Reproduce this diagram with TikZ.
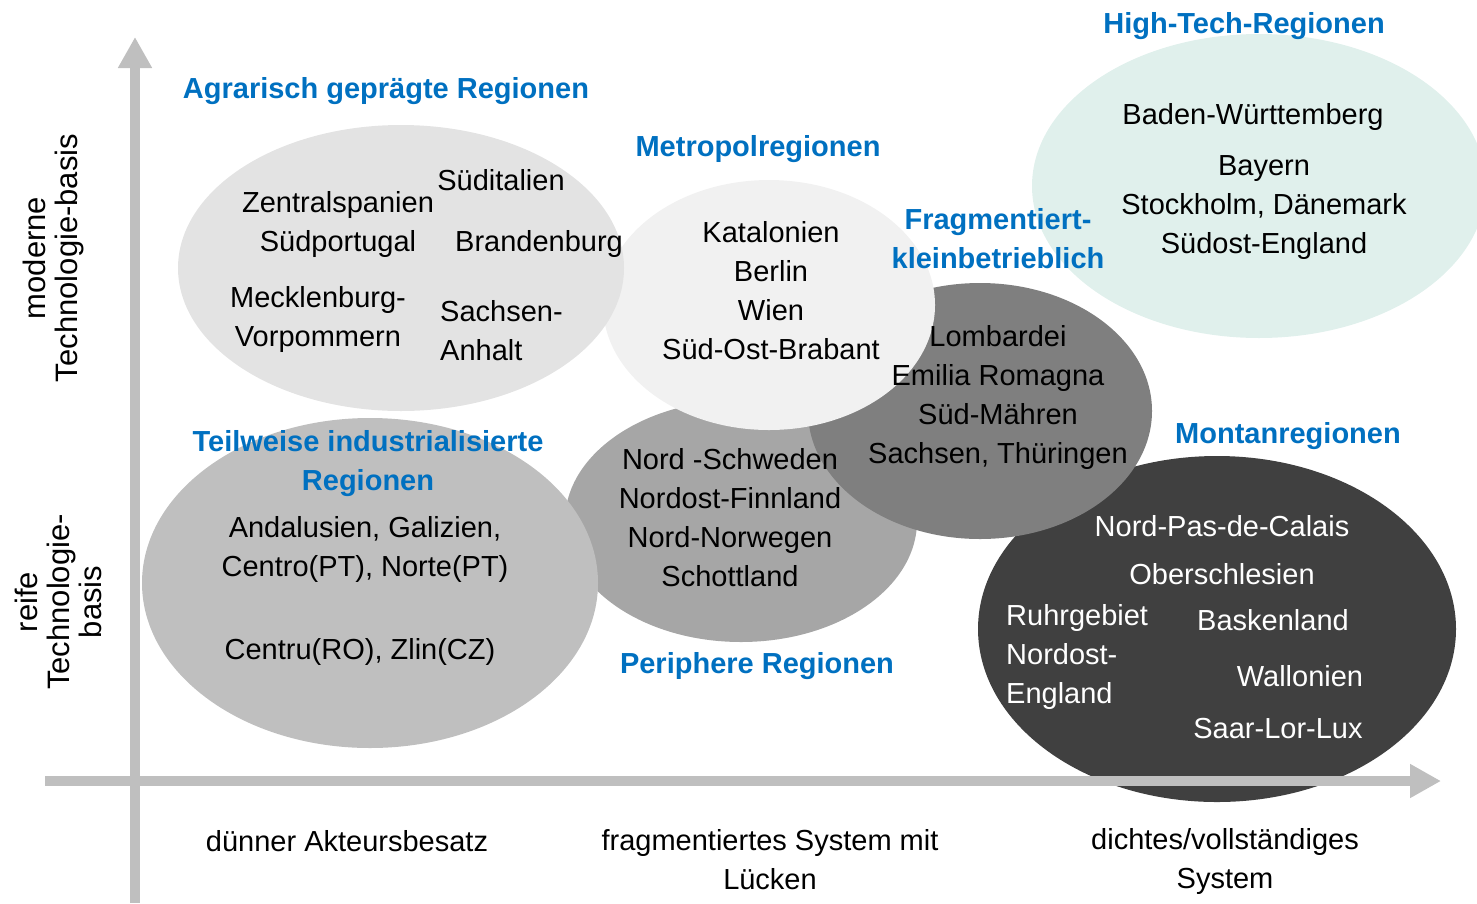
\documentclass[tikz,border=0pt]{standalone}
\usepackage{fontspec}
\setmainfont{Liberation Sans}
\usetikzlibrary{arrows.meta}

\definecolor{titleblue}{HTML}{0070C0}
\definecolor{axisgray}{HTML}{BFBFBF}
\definecolor{agrarfill}{HTML}{E3E3E3}
\definecolor{metrofill}{HTML}{F1F1F1}
\definecolor{fragmfill}{HTML}{7F7F7F}
\definecolor{periphfill}{HTML}{A6A6A6}
\definecolor{teilfill}{HTML}{BFBFBF}
\definecolor{montanfill}{HTML}{404040}
\definecolor{hitechfill}{HTML}{E0F0EC}

\begin{document}
\begin{tikzpicture}[x=1pt, y=-1pt,
    lbl/.style={inner sep=0pt, align=center, font=\fontsize{29}{39}\selectfont},
    ttl/.style={lbl, text=titleblue, font=\fontsize{29}{39}\selectfont\bfseries},
    axislbl/.style={lbl, rotate=90, font=\fontsize{31}{32}\selectfont},
    axis/.style={draw=axisgray, line width=10pt, -{Triangle[length=31pt,width=32pt]}}]
    \clip (0,0) rectangle (1477,903);

    % region ellipses, back to front
    \fill[periphfill] (741,521) ellipse [x radius=176pt, y radius=121pt];
    \fill[montanfill] (1217,629) ellipse [x radius=239pt, y radius=173pt];
    \fill[fragmfill] (980,411) ellipse [x radius=172pt, y radius=128pt];
    \fill[metrofill] (769,305) ellipse [x radius=166pt, y radius=125pt];
    \fill[agrarfill] (401,268) ellipse [x radius=223pt, y radius=143pt];
    \fill[teilfill] (370,583) ellipse [x radius=228pt, y radius=165pt];
    \fill[hitechfill] (1259,186) ellipse [x radius=227pt, y radius=152pt];

    % axes
    \coordinate (ybot) at (135,903);
    \coordinate (ytop) at (135,37);
    \coordinate (xleft) at (45,781);
    \coordinate (xright) at (1441,781);
    \draw[axis] (ybot) -- (ytop);
    \draw[axis] (xleft) -- (xright);

    % titles
    \node[ttl] (tagrar) at (386,91) {Agrarisch geprägte Regionen};
    \node[ttl] (tmetro) at (758,149) {Metropolregionen};
    \node[ttl] (thitech) at (1244,26) {High-Tech-Regionen};
    \node[ttl] (tfragm) at (998,239) {Fragmentiert-\\kleinbetrieblich};
    \node[ttl] (tteil) at (368,464) {Teilweise industrialisierte\\Regionen};
    \node[ttl] (tmontan) at (1288,436) {Montanregionen};
    \node[ttl] (tperiph) at (757,666) {Periphere Regionen};

    % agrarisch
    \node[lbl] (zentral) at (338,224) {Zentralspanien\\Südportugal};
    \node[lbl] (sueditalien) at (501,180) {Süditalien};
    \node[lbl] (brandenburg) at (539,244) {Brandenburg};
    \node[lbl] (mecklenburg) at (318,319) {Mecklenburg-\\Vorpommern};
    \node[lbl, anchor=west, align=left] (sachsen) at (440,331) {Sachsen-\\Anhalt};

    % metropol, fragmentiert, periphere
    \node[lbl] (metro) at (771,291) {Katalonien\\Berlin\\Wien\\Süd-Ost-Brabant};
    \node[lbl] (fragm) at (998,397) {Lombardei\\Emilia Romagna\\Süd-Mähren\\Sachsen, Thüringen};
    \node[lbl] (periph) at (730,518) {Nord -Schweden\\Nordost-Finnland\\Nord-Norwegen\\Schottland};

    % teilweise industrialisiert
    \node[lbl] (andalusien) at (365,549) {Andalusien, Galizien,\\Centro(PT), Norte(PT)};
    \node[lbl] (centru) at (360,652) {Centru(RO), Zlin(CZ)};

    % montan
    \node[lbl, text=white] (nordpas) at (1222,526) {Nord-Pas-de-Calais};
    \node[lbl, text=white] (oberschlesien) at (1222,574) {Oberschlesien};
    \node[lbl, text=white, anchor=west, align=left] (ruhr) at (1006,657) {Ruhrgebiet\\Nordost-\\England};
    \node[lbl, text=white] (basken) at (1273,620) {Baskenland};
    \node[lbl, text=white] (wallonien) at (1300,676) {Wallonien};
    \node[lbl, text=white] (saar) at (1278,729) {Saar-Lor-Lux};

    % high-tech
    \node[lbl] (bw) at (1253,117) {Baden-Württemberg};
    \node[lbl] (bayern) at (1264,208) {Bayern\\Stockholm, Dänemark\\Südost-England};

    % axis labels
    \node[axislbl] (ymod) at (53,258) {moderne\\Technologie-basis};
    \node[axislbl] (yreif) at (58,602) {reife\\Technologie-\\basis};
    \node[lbl] (xduenn) at (347,841) {dünner Akteursbesatz};
    \node[lbl] (xfragm) at (770,860) {fragmentiertes System mit\\Lücken};
    \node[lbl] (xdicht) at (1225,861) {dichtes/vollständiges\\System};
\end{tikzpicture}
\end{document}
